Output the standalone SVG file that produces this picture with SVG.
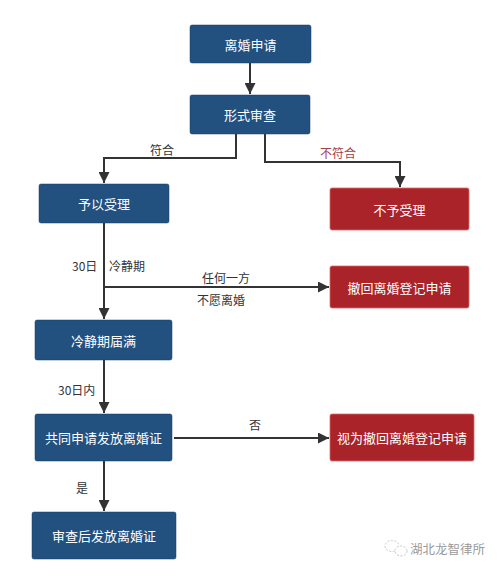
<svg xmlns="http://www.w3.org/2000/svg" width="500" height="584" viewBox="0 0 500 584">
<style>
.b{fill:#22507f;stroke:#1a3f66;stroke-width:0.5}
.r{fill:#aa2329;stroke:#d86a6a;stroke-width:0.8}
.t{font-family:"Noto Sans CJK SC","Noto Sans",sans-serif;font-size:13px;fill:#ffffff;text-anchor:middle;dominant-baseline:central}
.l{font-family:"Noto Sans CJK SC","Liberation Sans",sans-serif;font-size:12px;fill:#333333;dominant-baseline:central}
.c{fill:none;stroke:#333333;stroke-width:2}
</style>
<defs>
<marker id="a" viewBox="0 0 10 10" refX="10" refY="5" markerWidth="6.5" markerHeight="5.5" orient="auto" markerUnits="strokeWidth">
<path d="M0,0 L10,5 L0,10 Z" fill="#333333"/>
</marker>
</defs>
<rect width="500" height="584" fill="#ffffff"/>
<g id="connectors">
<line class="c" x1="250" y1="63" x2="250" y2="94" marker-end="url(#a)"/>
<polyline class="c" points="236,134 236,158 104,158 104,183" marker-end="url(#a)"/>
<polyline class="c" points="265,134 265,162 400,162 400,187" marker-end="url(#a)"/>
<line class="c" x1="104" y1="223" x2="104" y2="319" marker-end="url(#a)"/>
<line class="c" x1="103" y1="287" x2="329" y2="287" marker-end="url(#a)"/>
<line class="c" x1="104" y1="360" x2="104" y2="413" marker-end="url(#a)"/>
<line class="c" x1="174" y1="438" x2="329" y2="438" marker-end="url(#a)"/>
<line class="c" x1="104" y1="461" x2="104" y2="511" marker-end="url(#a)"/>
<text class="l" x="150" y="149">符合</text>
<text class="l" x="320" y="152" style="fill:#a04050">不符合</text>
<text class="l" x="72" y="265">30日</text>
<text class="l" x="109" y="265">冷静期</text>
<text class="l" x="202" y="277">任何一方</text>
<text class="l" x="197" y="299">不愿离婚</text>
<text class="l" x="58" y="389">30日内</text>
<text class="l" x="249" y="424">否</text>
<text class="l" x="76" y="487">是</text>
</g>
<g id="n1"><rect class="b" x="190" y="25" width="121" height="38" rx="2"/><text class="t" x="250.5" y="44">离婚申请</text></g>
<g id="n2"><rect class="b" x="190" y="95" width="120" height="39" rx="2"/><text class="t" x="250" y="114.5">形式审查</text></g>
<g id="n3"><rect class="b" x="39" y="184" width="130" height="39" rx="2"/><text class="t" x="104" y="203.5">予以受理</text></g>
<g id="n4"><rect class="r" x="330" y="188" width="139" height="42" rx="2"/><text class="t" x="399.5" y="209">不予受理</text></g>
<g id="n5"><rect class="r" x="330" y="266" width="139" height="42" rx="2"/><text class="t" x="399.5" y="287">撤回离婚登记申请</text></g>
<g id="n6"><rect class="b" x="35" y="320" width="137" height="40" rx="2"/><text class="t" x="103.5" y="340">冷静期届满</text></g>
<g id="n7"><rect class="b" x="35" y="414" width="137" height="47" rx="2"/><text class="t" x="103.5" y="437.5">共同申请发放离婚证</text></g>
<g id="n8"><rect class="r" x="330" y="414" width="144" height="47" rx="2"/><text class="t" x="402" y="437.5">视为撤回离婚登记申请</text></g>
<g id="n9"><rect class="b" x="32" y="512" width="144" height="47" rx="2"/><text class="t" x="104" y="535.5">审查后发放离婚证</text></g>
<g id="watermark">
<ellipse cx="392" cy="546" rx="7" ry="5.5" fill="none" stroke="#c8c8c8" stroke-width="1" stroke-dasharray="2,1.5"/>
<ellipse cx="401" cy="551" rx="6" ry="5" fill="#ffffff" stroke="#c8c8c8" stroke-width="1" stroke-dasharray="2,1.5"/>
<text x="410" y="548" style="font-family:'Noto Sans CJK SC',sans-serif;font-size:12.5px;fill:#9a9a9a;dominant-baseline:central">湖北龙智律所</text>
</g>
</svg>
